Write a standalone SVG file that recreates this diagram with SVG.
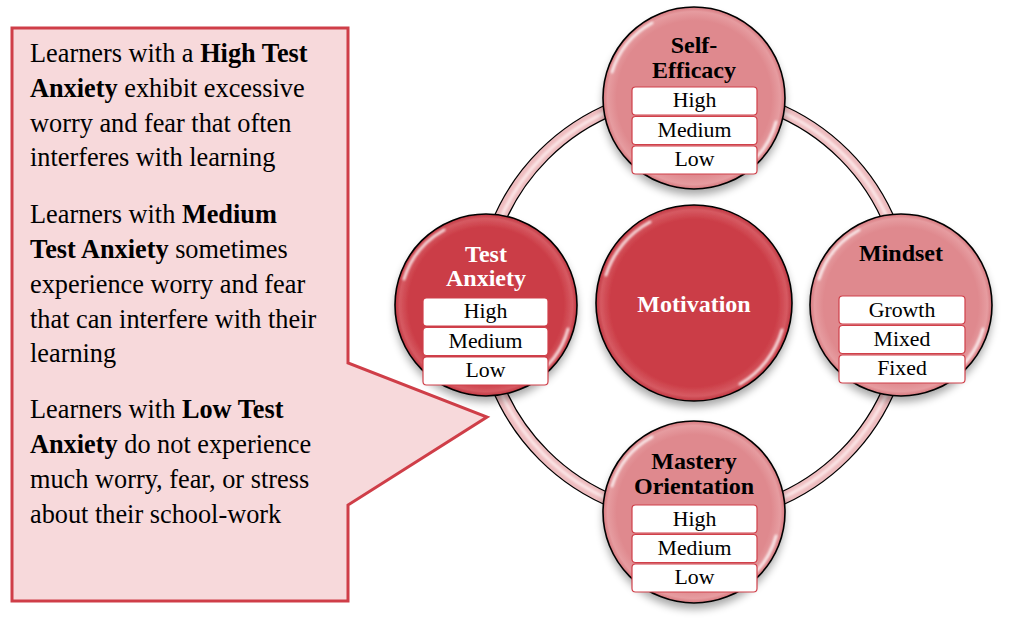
<svg xmlns="http://www.w3.org/2000/svg" width="1035" height="618" viewBox="0 0 1035 618">
<defs>
<style>
text{font-family:'Liberation Serif','DejaVu Serif','Times New Roman',serif}
.body{font-size:26.3px;fill:#000}
.title{font-size:24px;font-weight:bold;text-anchor:middle}
.item{font-size:21.8px;text-anchor:middle;fill:#000}
.box{fill:#fff;stroke:#d0404a;stroke-width:1.2}
.outline{fill:none;stroke:#000;stroke-width:1.6}
.hl{fill:none;stroke:#fff;stroke-width:3;stroke-linecap:round;opacity:0.75}
</style>
<filter id="shadow" x="-30%" y="-30%" width="160%" height="170%">
<feGaussianBlur in="SourceAlpha" stdDeviation="4"/>
<feOffset dx="0" dy="6" result="b"/>
<feComponentTransfer><feFuncA type="linear" slope="0.35"/></feComponentTransfer>
<feMerge><feMergeNode/><feMergeNode in="SourceGraphic"/></feMerge>
</filter>
<filter id="soft"><feGaussianBlur stdDeviation="1.2"/></filter>
<radialGradient id="gLight" cx="0.5" cy="0.5" r="0.5">
<stop offset="0.85" stop-color="#df898e"/>
<stop offset="0.95" stop-color="#e69ca0"/>
<stop offset="1" stop-color="#d6767c"/>
</radialGradient>
<radialGradient id="gDark" cx="0.5" cy="0.5" r="0.5">
<stop offset="0.85" stop-color="#cb3c46"/>
<stop offset="0.95" stop-color="#d65a62"/>
<stop offset="1" stop-color="#bf3540"/>
</radialGradient>
</defs>
<rect width="1035" height="618" fill="#fff"/>

<g id="callout">
<path d="M12,28 H348 V363 L487,417 L348,505 V601 H12 Z" fill="#f7d9db" stroke="#cf3e48" stroke-width="3" stroke-linejoin="miter"/>
<text class="body" x="30" y="62">Learners with a <tspan font-weight="bold">High Test</tspan></text>
<text class="body" x="30" y="97"><tspan font-weight="bold">Anxiety</tspan> exhibit excessive</text>
<text class="body" x="30" y="132">worry and fear that often</text>
<text class="body" x="30" y="166">interferes with learning</text>
<text class="body" x="30" y="223">Learners with <tspan font-weight="bold">Medium</tspan></text>
<text class="body" x="30" y="258"><tspan font-weight="bold">Test Anxiety</tspan> sometimes</text>
<text class="body" x="30" y="293">experience worry and fear</text>
<text class="body" x="30" y="328">that can interfere with their</text>
<text class="body" x="30" y="362">learning</text>
<text class="body" x="30" y="418">Learners with <tspan font-weight="bold">Low Test</tspan></text>
<text class="body" x="30" y="453"><tspan font-weight="bold">Anxiety</tspan> do not experience</text>
<text class="body" x="30" y="488">much worry, fear, or stress</text>
<text class="body" x="30" y="523">about their school-work</text>
</g>

<g id="connectors">
<circle cx="694" cy="305" r="212.5" fill="none" stroke="#000" stroke-width="13.5"/>
<circle cx="694" cy="305" r="212.5" fill="none" stroke="#eebcbf" stroke-width="11"/>
<circle cx="694" cy="305" r="212" fill="none" stroke="#fbe4e5" stroke-width="3.5" filter="url(#soft)"/>
</g>

<g id="motivation">
<circle cx="694" cy="303" r="98" fill="url(#gDark)" filter="url(#shadow)"/>
<circle cx="694" cy="303" r="98" class="outline"/>
<path d="M606,275 A92,92 0 0 1 650,222" class="hl" filter="url(#soft)"/>
<path d="M782,330 A92,92 0 0 1 740,384" class="hl" filter="url(#soft)"/>
<text class="title" x="694" y="312" fill="#fff">Motivation</text>
</g>

<g id="self-efficacy">
<circle cx="694" cy="98" r="91" fill="url(#gLight)" filter="url(#shadow)"/>
<circle cx="694" cy="98" r="91" class="outline"/>
<path d="M612,72 A85,85 0 0 1 652,23" class="hl" filter="url(#soft)"/>
<path d="M776,122 A85,85 0 0 1 738,172" class="hl" filter="url(#soft)"/>
<text class="title" x="694" y="53" fill="#000">Self-</text>
<text class="title" x="694" y="78" fill="#000">Efficacy</text>
<rect class="box" x="632" y="87" width="125" height="28" rx="3.5"/>
<text class="item" x="694.5" y="107">High</text>
<rect class="box" x="632" y="116.5" width="125" height="28" rx="3.5"/>
<text class="item" x="694.5" y="137">Medium</text>
<rect class="box" x="632" y="146" width="125" height="28" rx="3.5"/>
<text class="item" x="694.5" y="166">Low</text>
</g>

<g id="test-anxiety">
<circle cx="486" cy="305" r="91" fill="url(#gDark)" filter="url(#shadow)"/>
<circle cx="486" cy="305" r="91" class="outline"/>
<path d="M404,279 A85,85 0 0 1 444,230" class="hl" filter="url(#soft)"/>
<path d="M568,329 A85,85 0 0 1 530,379" class="hl" filter="url(#soft)"/>
<text class="title" x="486" y="262" fill="#fff">Test</text>
<text class="title" x="486" y="286" fill="#fff">Anxiety</text>
<rect class="box" x="423" y="298" width="125" height="28" rx="3.5"/>
<text class="item" x="485.5" y="318">High</text>
<rect class="box" x="423" y="327.5" width="125" height="28" rx="3.5"/>
<text class="item" x="485.5" y="348">Medium</text>
<rect class="box" x="423" y="357" width="125" height="28" rx="3.5"/>
<text class="item" x="485.5" y="377">Low</text>
</g>

<g id="mindset">
<circle cx="901" cy="305" r="91" fill="url(#gLight)" filter="url(#shadow)"/>
<circle cx="901" cy="305" r="91" class="outline"/>
<path d="M819,279 A85,85 0 0 1 859,230" class="hl" filter="url(#soft)"/>
<path d="M983,329 A85,85 0 0 1 945,379" class="hl" filter="url(#soft)"/>
<text class="title" x="901" y="261" fill="#000">Mindset</text>
<rect class="box" x="839" y="296" width="126" height="28" rx="3.5"/>
<text class="item" x="902" y="317">Growth</text>
<rect class="box" x="839" y="325.5" width="126" height="28" rx="3.5"/>
<text class="item" x="902" y="346">Mixed</text>
<rect class="box" x="839" y="355" width="126" height="28" rx="3.5"/>
<text class="item" x="902" y="375">Fixed</text>
</g>

<g id="mastery-orientation">
<circle cx="694" cy="512" r="91" fill="url(#gLight)" filter="url(#shadow)"/>
<circle cx="694" cy="512" r="91" class="outline"/>
<path d="M612,486 A85,85 0 0 1 652,437" class="hl" filter="url(#soft)"/>
<path d="M776,536 A85,85 0 0 1 738,586" class="hl" filter="url(#soft)"/>
<text class="title" x="694" y="469" fill="#000">Mastery</text>
<text class="title" x="694" y="494" fill="#000">Orientation</text>
<rect class="box" x="632" y="505" width="125" height="28" rx="3.5"/>
<text class="item" x="694.5" y="526">High</text>
<rect class="box" x="632" y="534.5" width="125" height="28" rx="3.5"/>
<text class="item" x="694.5" y="555">Medium</text>
<rect class="box" x="632" y="564" width="125" height="28" rx="3.5"/>
<text class="item" x="694.5" y="584">Low</text>
</g>
</svg>
